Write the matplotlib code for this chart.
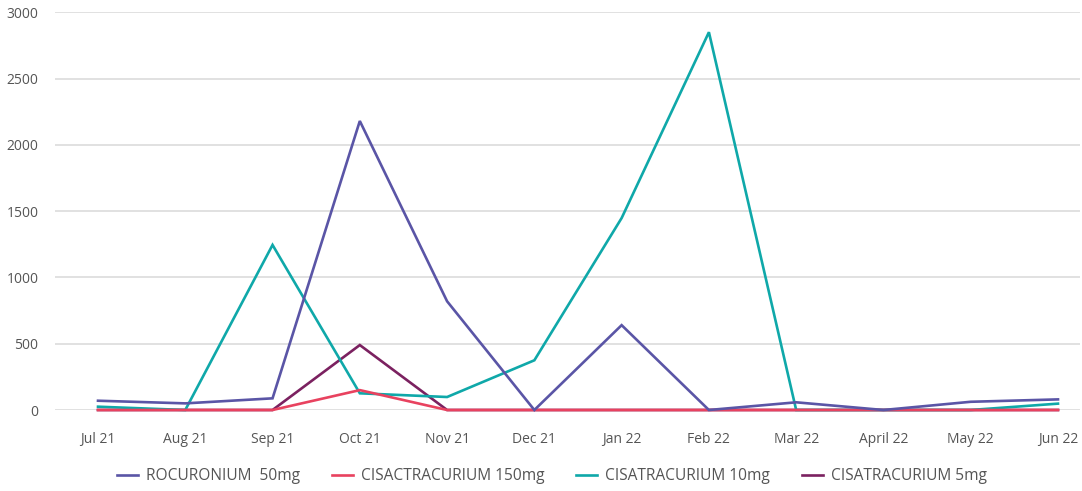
import matplotlib
matplotlib.use("Agg")
import matplotlib.pyplot as plt

plt.rcParams['font.family'] = ['Open Sans', 'DejaVu Sans']

months = ["Jul 21", "Aug 21", "Sep 21", "Oct 21", "Nov 21", "Dec 21",
          "Jan 22", "Feb 22", "Mar 22", "April 22", "May 22", "Jun 22"]

rocuronium_50 = [70, 50, 88, 2180, 820, 0, 640, 0, 58, 0, 62, 80]
cisactracurium_150 = [0, 0, 0, 150, 0, 0, 0, 0, 0, 0, 0, 0]
cisatracurium_10 = [25, 0, 1245, 126, 98, 375, 1448, 2850, 0, 0, 0, 48]
cisatracurium_5 = [0, 0, 0, 490, 0, 0, 0, 0, 0, 0, 0, 0]

yticks = [0, 500, 1000, 1500, 2000, 2500, 3000]

W, H = 1082, 491
fig = plt.figure(figsize=(W / 100, H / 100), dpi=100)
left, right, top, bottom = 55, 1080, 12.3, 410
ax = fig.add_axes([left / W, (H - bottom) / H, (right - left) / W, (bottom - top) / H])

step = (1058 - 98) / 11
ax.set_xlim(-(98 - left) / step, 11 + (right - 1058) / step)
ax.set_ylim(0, 3000)

x = list(range(len(months)))
series = [
    ("CISATRACURIUM 5mg", cisatracurium_5, "#7B2160", 3),
    ("CISATRACURIUM 10mg", cisatracurium_10, "#0FA8A9", 4),
    ("CISACTRACURIUM 150mg", cisactracurium_150, "#E8425F", 5),
    ("ROCURONIUM  50mg", rocuronium_50, "#5A55A6", 6),
]
handles = {}
for name, vals, col, z in series:
    ln, = ax.plot(x, vals, color=col, lw=1.9, zorder=z, clip_on=False,
                  solid_joinstyle='miter')
    handles[name] = ln

ax.set_yticks(yticks)
ax.set_xticks(x)
ax.set_xticklabels(months)
ax.yaxis.grid(True, color="#d9d9d9", lw=1.1)
ax.set_axisbelow(True)
for s in ax.spines.values():
    s.set_visible(False)
ax.tick_params(axis='both', length=0, labelsize=10, labelcolor="#555555")
ax.tick_params(axis='y', pad=12)
ax.tick_params(axis='x', pad=16)

order = ["ROCURONIUM  50mg", "CISACTRACURIUM 150mg", "CISATRACURIUM 10mg", "CISATRACURIUM 5mg"]
fig.legend([handles[n] for n in order], order, loc='center', ncol=4,
           bbox_to_anchor=(0.51, 1 - 476 / H), frameon=False,
           fontsize=11.2, labelcolor="#555555", handlelength=1.35,
           handletextpad=0.5, columnspacing=2.05)

fig.savefig("out.png", dpi=100)
